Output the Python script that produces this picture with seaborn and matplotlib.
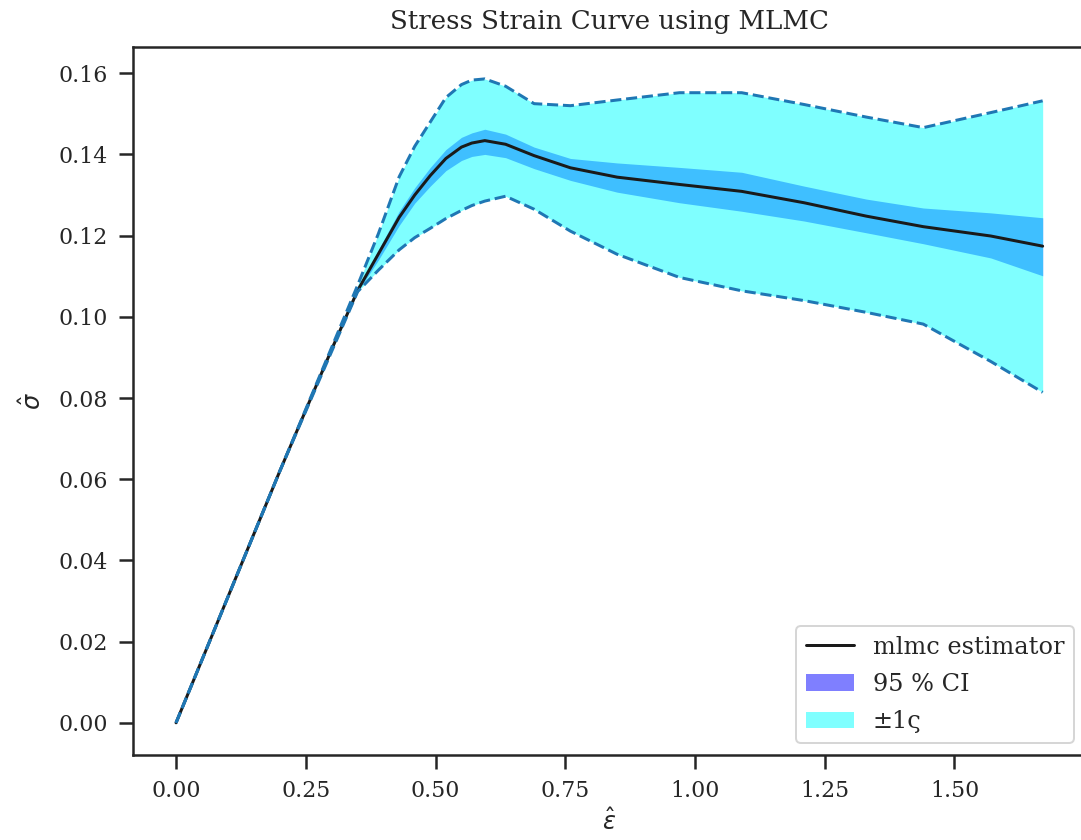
import numpy as np
import pandas as pd
import matplotlib
matplotlib.use("Agg")
import matplotlib.pyplot as plt
import seaborn as sns

# strain values
strain = [0.0, 0.10, 0.20, 0.30, 0.35, 0.39, 0.43, 0.46, 0.49, 0.52, 0.55, 0.57, 0.595, 0.635,
          0.69, 0.76, 0.85, 0.97, 1.09, 1.21, 1.33, 1.44, 1.57, 1.67]
# mlmc estimator of stress
mean = [0.0, 0.031, 0.062, 0.092, 0.1065, 0.1155, 0.1245, 0.1300, 0.1348, 0.1390, 0.1418, 0.1428,
        0.1434, 0.1425, 0.1397, 0.1367, 0.1344, 0.1326, 0.1309, 0.1281, 0.1248, 0.1222, 0.1199, 0.1174]
# 95 % confidence interval
ci_upper = [0.0, 0.031, 0.062, 0.092, 0.1068, 0.1165, 0.1260, 0.1318, 0.1368, 0.1412, 0.1442, 0.1453,
            0.1462, 0.1450, 0.1418, 0.1390, 0.1379, 0.1368, 0.1356, 0.1322, 0.1290, 0.1268, 0.1256, 0.1244]
ci_lower = [0.0, 0.031, 0.062, 0.092, 0.1062, 0.1140, 0.1225, 0.1280, 0.1322, 0.1360, 0.1385, 0.1395,
            0.1400, 0.1392, 0.1365, 0.1336, 0.1307, 0.1281, 0.1260, 0.1236, 0.1207, 0.1180, 0.1145, 0.1101]
# +/- one standard deviation
sd_upper = [0.0, 0.031, 0.062, 0.0925, 0.1078, 0.1205, 0.1345, 0.1420, 0.1480, 0.1540, 0.1572, 0.1583,
            0.1586, 0.1568, 0.1525, 0.1520, 0.1534, 0.1552, 0.1552, 0.1523, 0.1492, 0.1466, 0.1503, 0.1532]
sd_lower = [0.0, 0.031, 0.062, 0.0915, 0.1062, 0.1115, 0.1165, 0.1195, 0.1218, 0.1242, 0.1262, 0.1274,
            0.1285, 0.1297, 0.1265, 0.1211, 0.1154, 0.1097, 0.1064, 0.1040, 0.1011, 0.0982, 0.0890, 0.0814]

df = pd.DataFrame({"strain": strain, "mean": mean, "ci_upper": ci_upper,
                   "ci_lower": ci_lower, "sd_upper": sd_upper, "sd_lower": sd_lower})

sns.set_theme(style="ticks", context="notebook",
              rc={"xtick.major.size": 7, "ytick.major.size": 7,
                  "xtick.major.pad": 5.5, "ytick.major.pad": 5.5,
                  "axes.labelsize": 12, "axes.titlesize": 13, "legend.fontsize": 12})
plt.rcParams["font.family"] = ["DejaVu Serif"]

fig = plt.figure(figsize=(1081 / 144, 840 / 144), dpi=144)
ax = fig.add_axes([132.7 / 1081, (840 - 755) / 840, (1086 - 132.7) / 1081, (755 - 46.7) / 840])

sns.lineplot(data=df, x="strain", y="mean", color="k", linewidth=1.5,
             label="mlmc estimator", ax=ax, legend=False)
ax.fill_between(df["strain"], df["ci_lower"], df["ci_upper"], color="blue",
                alpha=0.5, linewidth=0, label="95 % CI")
ax.fill_between(df["strain"], df["sd_lower"], df["sd_upper"], color="cyan",
                alpha=0.5, linewidth=0, label="±1ς")
sns.lineplot(data=df, x="strain", y="sd_upper", color="tab:blue", linestyle="--",
             linewidth=1.5, ax=ax, legend=False)
sns.lineplot(data=df, x="strain", y="sd_lower", color="tab:blue", linestyle="--",
             linewidth=1.5, ax=ax, legend=False)

ax.set_xticks([0.0, 0.25, 0.5, 0.75, 1.0, 1.25, 1.5])
ax.set_yticks([0.0, 0.02, 0.04, 0.06, 0.08, 0.10, 0.12, 0.14, 0.16])
ax.xaxis.set_major_formatter(matplotlib.ticker.FormatStrFormatter("%.2f"))
ax.yaxis.set_major_formatter(matplotlib.ticker.FormatStrFormatter("%.2f"))
ax.set_xlabel(r"$\hat{\varepsilon}$", labelpad=3)
ax.set_ylabel(r"$\hat{\sigma}$", labelpad=6)
ax.set_title("Stress Strain Curve using MLMC", pad=9)

handles, labels = ax.get_legend_handles_labels()
order = ["mlmc estimator", "95 % CI", "±1ς"]
hmap = dict(zip(labels, handles))
ax.legend([hmap[l] for l in order], order, loc="lower right", labelspacing=0.6)

fig.savefig("out.png", dpi=144)
